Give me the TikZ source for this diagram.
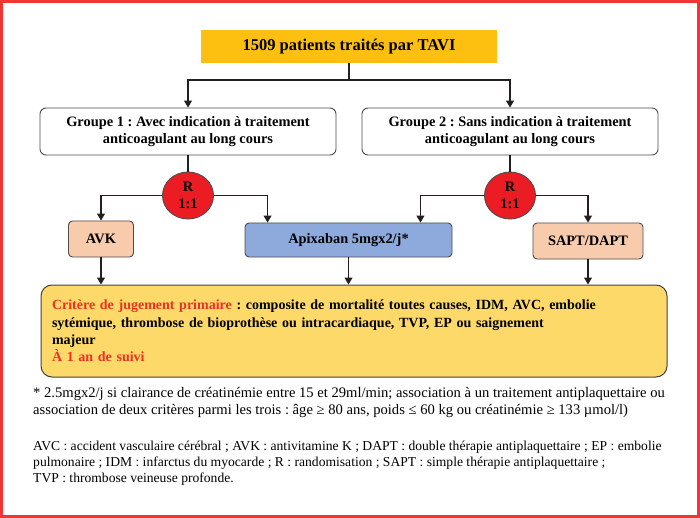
\documentclass[tikz,border=0pt]{standalone}
\usepackage{fontspec}
\setmainfont{Liberation Serif}
\usetikzlibrary{arrows.meta,shapes.geometric}
\definecolor{framec}{HTML}{F03535}
\definecolor{titlec}{HTML}{FDC010}
\definecolor{circc}{HTML}{EC1C24}
\definecolor{peachc}{HTML}{F8CBAD}
\definecolor{apixc}{HTML}{8EA9DB}
\definecolor{crityc}{HTML}{FDD96A}
\definecolor{inkc}{HTML}{231F20}
\definecolor{redtxt}{HTML}{EE3124}
\tikzset{
  arr/.style={draw=inkc, line width=1.1pt, -{Triangle[length=7pt,width=8pt]}},
  ln/.style={draw=inkc, line width=1.1pt},
  grpbox/.style={draw=inkc!80, line width=0.9pt, rounded corners=6pt, fill=white,
    minimum width=296pt, minimum height=47pt, align=center, inner sep=0pt,
    font=\fontsize{14.4}{17}\selectfont\bfseries},
  rnd/.style={ellipse, draw=inkc!80, line width=0.9pt, fill=circc, minimum width=51pt,
    minimum height=47pt, inner sep=0pt, align=center,
    font=\fontsize{14.4}{17}\selectfont\bfseries},
  trt/.style={draw=inkc!80, line width=0.9pt, rounded corners=4pt, inner sep=0pt,
    font=\fontsize{14.4}{17}\selectfont\bfseries},
  foot/.style={anchor=base west, inner sep=0pt, font=\fontsize{14.6}{17}\selectfont},
  abbr/.style={anchor=base west, inner sep=0pt, font=\fontsize{13.6}{16}\selectfont}
}
\begin{document}
\frenchspacing
\begin{tikzpicture}[x=1pt,y=-1pt]
\useasboundingbox (0,0) rectangle (700,518);
\fill[white] (0,0) rectangle (700,518);
\draw[framec, line width=3pt] (1.5,1.5) rectangle (698.5,516.5);

\node[fill=titlec, minimum width=296pt, minimum height=33pt, inner sep=0pt,
  font=\fontsize{16.5}{19}\selectfont\bfseries] (title) at (349,46.5) {1509 patients traités par TAVI};

\node[grpbox] (g1) at (188,131.5) {Groupe 1 : Avec indication à traitement\\anticoagulant au long cours};
\node[grpbox] (g2) at (510,131.5) {Groupe 2 : Sans indication à traitement\\anticoagulant au long cours};

\node[rnd] (r1) at (188,195.5) {R\\1:1};
\node[rnd] (r2) at (510,195.5) {R\\1:1};

\node[trt, fill=peachc, minimum width=65pt, minimum height=36pt] (avk) at (101,239) {AVK};
\node[trt, fill=apixc, minimum width=207pt, minimum height=34pt] (apix) at (348.5,240) {Apixaban 5mgx2/j*};
\node[trt, fill=peachc, minimum width=110pt, minimum height=36pt] (sapt) at (588,241) {SAPT/DAPT};

\node[draw=inkc!85, line width=1pt, fill=crityc, rounded corners=11pt,
  minimum height=92pt, text width=604pt, inner xsep=11pt, inner ysep=0pt, align=left,
  font=\fontsize{14}{17.3}\selectfont\bfseries] (crit) at (354,331)
  {\textcolor{redtxt}{Critère de jugement primaire} : composite de mortalité toutes causes, IDM, AVC, embolie\\
   sytémique, thrombose de bioprothèse ou intracardiaque, TVP, EP ou saignement\\
   majeur\\
   \textcolor{redtxt}{À 1 an de suivi}};

\coordinate (j) at (349,80);
\draw[ln] (title.south) -- (j);
\draw[arr] (j) -| (g1.north);
\draw[arr] (j) -| (g2.north);

\draw[ln] (g1.south) -- (r1.north);
\draw[ln] (g2.south) -- (r2.north);

\draw[arr] (r1.west) -| (avk.north);
\draw[arr] (r1.east) -| ([xshift=23pt]apix.north west);
\draw[arr] (r2.west) -| ([xshift=-32pt]apix.north east);
\draw[arr] (r2.east) -| (sapt.north);

\draw[arr] (avk.south) -- (avk.south |- crit.north);
\draw[arr] (apix.south) -- (apix.south |- crit.north);
\draw[arr] (sapt.south) -- (sapt.south |- crit.north);

\node[foot] (f1) at (33,397) {* 2.5mgx2/j si clairance de créatinémie entre 15 et 29ml/min; association à un traitement antiplaquettaire ou};
\node[foot] (f2) at (33,414) {association de deux critères parmi les trois : âge ≥ 80 ans, poids ≤ 60 kg ou créatinémie ≥ 133 µmol/l)};

\node[abbr] (a1) at (33,450) {AVC : accident vasculaire cérébral ; AVK : antivitamine K ; DAPT : double thérapie antiplaquettaire ; EP : embolie};
\node[abbr] (a2) at (33,466) {pulmonaire ; IDM : infarctus du myocarde ; R : randomisation ; SAPT : simple thérapie antiplaquettaire ;};
\node[abbr] (a3) at (33,482) {TVP : thrombose veineuse profonde.};
\end{tikzpicture}
\end{document}
